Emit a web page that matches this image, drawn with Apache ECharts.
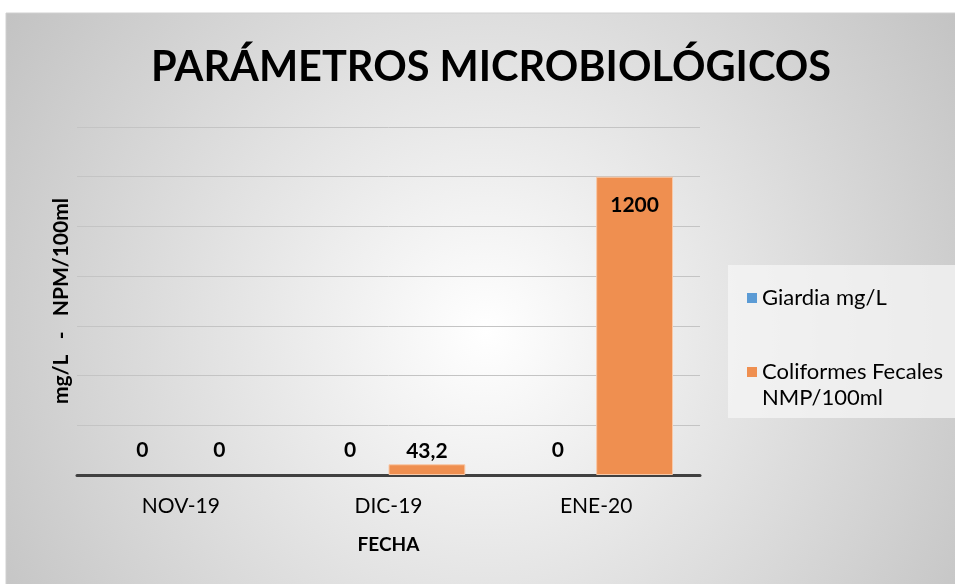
<!DOCTYPE html>
<html>
<head>
<meta charset="utf-8">
<script src="https://cdn.jsdelivr.net/npm/echarts@6/dist/echarts.min.js"></script>
<style>
html,body{margin:0;padding:0;background:#fff;}
#chart{width:955px;height:584px;}
</style>
</head>
<body>
<div id="chart"></div>
<script>
var categories = ['NOV-19', 'DIC-19', 'ENE-20'];
var giardia = [0, 0, 0];
var coliformes = [0, 43.2, 1200];
var seriesNames = ['Giardia mg/L', 'Coliformes Fecales\nNMP/100ml'];
var titleText = 'PARÁMETROS MICROBIOLÓGICOS';
var yName = 'mg/L   -   NPM/100ml';
var xName = 'FECHA';

var FONT = 'Lato, "Open Sans", sans-serif';

function labelFor(v) {
  if (v >= 600) return { position: 'insideTop', distance: 18 };
  if (v === 0) return { position: 'top', distance: 14 };
  return { position: 'top', distance: 3 };
}
function mkData(arr) {
  return arr.map(function (v) {
    var d = { value: v, label: labelFor(v) };
    if (v === 0) d.itemStyle = { borderWidth: 0 };
    return d;
  });
}
var labelBase = {
  show: true, color: '#000', fontWeight: 'bold', fontSize: 21, fontFamily: FONT,
  formatter: function (p) { return String(p.value).replace('.', ','); }
};

var chart = echarts.init(document.getElementById('chart'), null, { renderer: 'canvas' });
chart.setOption({
  animation: false,
  backgroundColor: '#ffffff',
  graphic: [
    {
      type: 'rect', z: -10, silent: true,
      shape: { x: 6, y: 13, width: 960, height: 580 },
      style: {
        fill: { type: 'radial', x: 0.5, y: 0.55, r: 1.0,
          colorStops: [{ offset: 0, color: '#ffffff' }, { offset: 1, color: '#c2c2c2' }] },
        stroke: '#d0d0d0', lineWidth: 1
      }
    },
    {
      type: 'rect', z: -9, silent: true,
      shape: { x: 728, y: 265, width: 240, height: 153 },
      style: { fill: 'rgba(245,245,245,0.75)' }
    }
  ],
  title: {
    text: titleText, left: 486, top: 42, textAlign: 'center',
    textStyle: { fontFamily: FONT, fontWeight: 'bold', fontSize: 41.5, color: '#000' }
  },
  legend: {
    orient: 'vertical', left: 742, top: 275, itemGap: 43,
    itemWidth: 10, itemHeight: 36,
    textStyle: { fontFamily: FONT, fontSize: 22, color: '#000', lineHeight: 26 },
    data: [
      { name: seriesNames[0], icon: 'path://M0,13H10V23H0Z M0,0H10V0.01H0Z M0,36H10V36.01H0Z' },
      { name: seriesNames[1], icon: 'path://M0,0H10V10H0Z M0,36H10V36.01H0Z' }
    ],
    itemStyle: { borderWidth: 0 }
  },
  grid: { left: 77, right: 255, top: 127, bottom: 109 },
  xAxis: {
    type: 'category', data: categories,
    axisLine: { lineStyle: { color: '#404040', width: 3 } },
    axisTick: { show: false },
    axisLabel: { color: '#000', fontFamily: FONT, fontSize: 21, margin: 21 },
    name: xName, nameLocation: 'middle', nameGap: 60,
    nameTextStyle: { fontFamily: FONT, fontWeight: 'bold', fontSize: 19, color: '#000' }
  },
  yAxis: {
    type: 'value', min: 0, max: 1400, interval: 200,
    axisLabel: { show: false }, axisLine: { show: false }, axisTick: { show: false },
    splitLine: { lineStyle: { color: '#c4c4c4', width: 1 } },
    name: yName, nameLocation: 'middle', nameGap: 5,
    nameTextStyle: { fontFamily: FONT, fontWeight: 'bold', fontSize: 21, color: '#000' }
  },
  series: [
    {
      name: seriesNames[0], type: 'bar', data: mkData(giardia),
      barGap: '0%', barCategoryGap: '26%',
      itemStyle: { color: '#5B9BD5' },
      label: labelBase
    },
    {
      name: seriesNames[1], type: 'bar', data: mkData(coliformes),
      barGap: '0%', barCategoryGap: '26%',
      itemStyle: { color: '#EF8F50', borderColor: '#f8c9a8', borderWidth: 1 },
      label: labelBase
    }
  ]
});
</script>
</body>
</html>
